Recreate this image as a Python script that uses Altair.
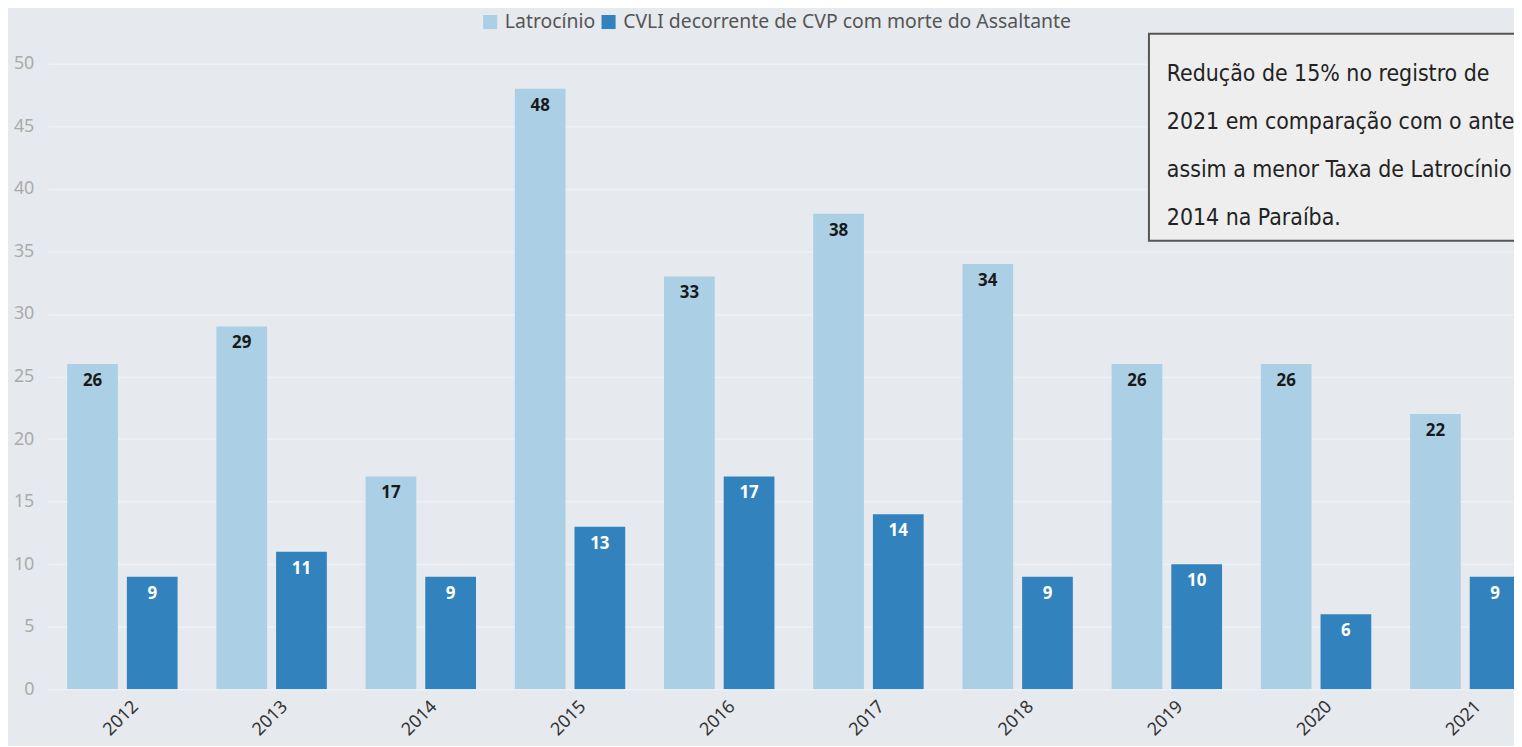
import altair as alt
import pandas as pd

years = ["2012", "2013", "2014", "2015", "2016", "2017", "2018", "2019", "2020", "2021"]
latrocinio = [26, 29, 17, 48, 33, 38, 34, 26, 26, 22]
cvli = [9, 11, 9, 13, 17, 14, 9, 10, 6, 9]
series_names = ["Latrocínio", "CVLI decorrente de CVP com morte do Assaltante"]
series_colors = ["#abd0e6", "#3182bd"]
y_ticks = [0, 5, 10, 15, 20, 25, 30, 35, 40, 45, 50]
note_lines = [
    "Redução de 15% no registro de",
    "2021 em comparação com o ante",
    "assim a menor Taxa de Latrocínio",
    "2014 na Paraíba.",
]

rows = []
for i, yr in enumerate(years):
    rows.append({"ano": yr, "serie": series_names[0], "valor": latrocinio[i]})
    rows.append({"ano": yr, "serie": series_names[1], "valor": cvli[i]})
df = pd.DataFrame(rows)

FONT = "Noto Sans"
BG = "#e6eaee"

x_enc = alt.X(
    "ano:N",
    sort=years,
    scale=alt.Scale(range=[0, 1500], paddingInner=0.26, paddingOuter=0.13),
    axis=alt.Axis(
        title=None, labelAngle=-45, labelAlign="right", labelBaseline="top",
        labelFontSize=18, labelColor="#333333", labelFont=FONT,
        ticks=False, domain=False, labelPadding=8, labelOffset=7, grid=False,
    ),
)
xoff = alt.XOffset(
    "serie:N", sort=series_names,
    scale=alt.Scale(domain=series_names, paddingInner=0.15, paddingOuter=0),
)
y_enc = alt.Y(
    "valor:Q",
    scale=alt.Scale(domain=[0, 50], nice=False),
    axis=alt.Axis(
        title=None, values=y_ticks, labelFontSize=18, labelColor="#aaaaaa",
        labelFont=FONT, ticks=False, domain=False, labelPadding=14,
        gridColor="#eef1f4", gridWidth=1.5,
    ),
)

bars = alt.Chart(df).mark_bar(clip=True).encode(
    x=x_enc,
    xOffset=xoff,
    y=y_enc,
    color=alt.Color(
        "serie:N",
        scale=alt.Scale(domain=series_names, range=series_colors),
        legend=alt.Legend(
            title=None, orient="none", legendX=435, legendY=-52,
            direction="horizontal", symbolType="square", symbolSize=200,
            symbolStrokeWidth=0, labelFontSize=19.5, labelColor="#555555",
            labelFont=FONT, columnPadding=3, labelOffset=5, padding=0,
            symbolOpacity=1, labelLimit=0,
        ),
    ),
)

labels = alt.Chart(df).mark_text(
    baseline="top", dy=9, fontSize=17, fontWeight="bold", font=FONT, clip=True
).encode(
    x=alt.X("ano:N", sort=years),
    xOffset=alt.XOffset("serie:N", sort=series_names),
    y=alt.Y("valor:Q"),
    text=alt.Text("valor:Q"),
    color=alt.condition(
        alt.datum.serie == series_names[0], alt.value("#1a1a1a"), alt.value("#ffffff")
    ),
)

box = alt.Chart(pd.DataFrame({"k": [0]})).mark_rect(
    fill="#eeeeee", stroke="#555555", strokeWidth=2
).encode(
    x=alt.value(1107), x2=alt.value(1600), y=alt.value(-30), y2=alt.value(178)
)

note = alt.Chart(pd.DataFrame({"t": ["\n".join(note_lines)]})).mark_text(
    align="left", baseline="alphabetic", lineBreak="\n", lineHeight=48.5,
    fontSize=23, font="DejaVu Sans Condensed", color="#222222",
).encode(
    x=alt.value(1125), y=alt.value(17), text="t:N"
)

chart = alt.layer(bars, labels, box, note).properties(
    width=1474, height=629,
    autosize=alt.AutoSizeParams(type="none"),
    padding={"left": 40, "top": 54, "right": 0, "bottom": 55},
    background=BG,
).configure_view(stroke=None)

chart.save("out.html", embed_options={"renderer": "svg", "actions": False})
